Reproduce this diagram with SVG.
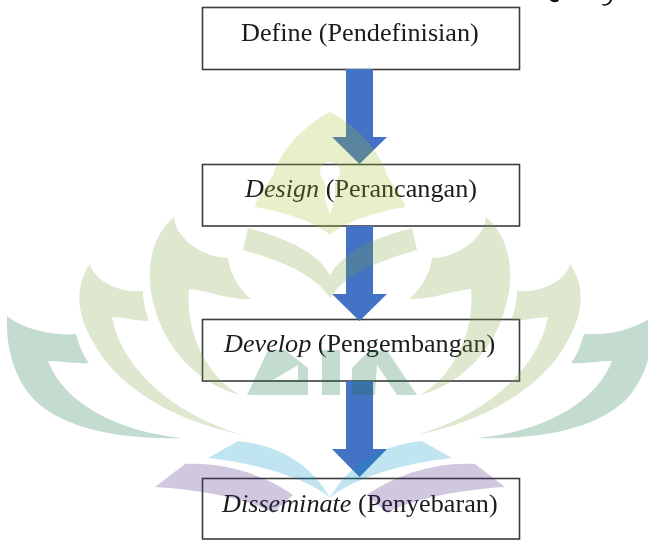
<svg xmlns="http://www.w3.org/2000/svg" xmlns:xlink="http://www.w3.org/1999/xlink" width="648" height="540" viewBox="0 0 648 540">
<style>
.box{fill:#fff;stroke:#3c3c3c;stroke-width:1.6}
.arrow{fill:#4472c4}
text{font-family:"Liberation Serif","Times New Roman",serif;font-size:26.2px;fill:#1a1a1a;filter:url(#soft)}
.wm{fill-opacity:.25;fill-rule:evenodd}
.teal{fill:#107440}.g2{fill:#78a440}.g1{fill:#9fc030}.sky{fill:#0494c4}.pur{fill:#40247c}
</style>
<defs>
<filter id="soft" x="-5%" y="-20%" width="110%" height="140%"><feGaussianBlur stdDeviation="0.35"/></filter>
<g id="half">
<path class="teal" d="M7 316C22 328 50 336 76 334C79 345 83 355 89 363C75 364 60 361 48 361C65 405 120 432 183 438C110 440 55 425 30 395C12 372 6 345 7 316Z"/>
<path class="g2" d="M90 264C95 282 120 293 143 291C143 302 146 312 149 321C136 321 124 317 112 317C122 370 175 415 243 435C170 420 115 385 92 340C76 312 75 285 90 264Z"/>
<path class="g2" d="M174 217C176 240 205 258 228 258C230 275 240 290 251 299C230 300 205 290 189 289C185 330 205 375 240 395C200 385 165 350 154 305C144 270 152 235 174 217Z"/>
<path class="sky" d="M208 458L238 441C280 445 312 465 330 498C320 488 280 466 208 458Z"/>
<path class="pur" d="M155 487L185 464C225 462 265 475 293 495L273 513C250 500 205 490 155 487Z"/>
</g>
</defs>
<g id="node-define"><rect class="box" x="202.500" y="7.500" width="317" height="62"/><text x="241" y="41">Define (Pendefinisian)</text></g>
<g id="node-design"><rect class="box" x="202.500" y="164.500" width="317" height="61.500"/><text x="245" y="197"><tspan font-style="italic">Design</tspan> (Perancangan)</text></g>
<g id="node-develop"><rect class="box" x="202.500" y="319.500" width="317" height="61.500"/><text x="224" y="352"><tspan font-style="italic">Develop</tspan> (Pengembangan)</text></g>
<g id="node-disseminate"><rect class="box" x="202.500" y="478.500" width="317" height="60.500"/><text x="222" y="512"><tspan font-style="italic">Disseminate</tspan> (Penyebaran)</text></g>
<g id="connectors">
<path class="arrow" d="M346 69H373V137H387L359.500 164L332 137H346Z"/>
<path class="arrow" d="M346 226H373V294H387L359.500 321L332 294H346Z"/>
<path class="arrow" d="M346 381H373V449H387L359.500 477L332 449H346Z"/>
</g>
<g id="watermark" class="wm">
<use xlink:href="#half" href="#half"/>
<use xlink:href="#half" href="#half" transform="translate(660 0) scale(-1 1)"/>
<path class="g1" d="M330 112C305 125 282 148 273 175C264 190 256 200 255 207C285 212 315 222 330 235C345 222 375 212 405 207C404 200 396 190 387 175C378 148 355 125 330 112ZM330 162C337 162 341 168 340 173C339 178 335 181 335 185L335 200L330 214L325 200L325 185C325 181 321 178 320 173C319 168 323 162 330 162Z"/>
<path class="g2" d="M248 228C285 238 315 250 330 275C345 250 375 238 412 228L417 250C375 262 345 275 330 298C315 275 285 262 243 250Z"/>
<path class="teal" d="M247 395L268 350L285 350L308 368L308 395ZM273 380L298 380L298 365Z"/>
<path class="teal" d="M322 350H340V395H322Z"/>
<path class="teal" d="M352 395V368L370 350L388 352L417 395H397L377 365L375 395Z"/>
</g>
<g id="top-fragments" fill="#111">
<path d="M550 0H559C558 3 552 3 550 0Z"/>
<path d="M602 4C606 5 609 3 610 0H612C611 4 606 7 602 5Z"/>
</g>
</svg>
